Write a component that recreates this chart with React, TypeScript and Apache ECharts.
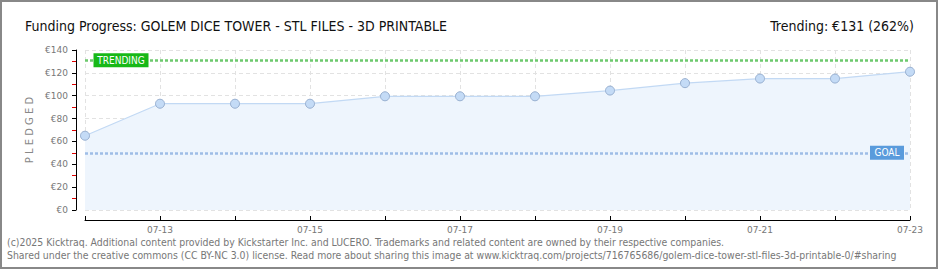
import React, { useEffect, useRef } from "react";
import * as echarts from "echarts";

const dates = ["07-12", "07-13", "07-14", "07-15", "07-16", "07-17", "07-18", "07-19", "07-20", "07-21", "07-22", "07-23"];
const pledged = [65, 93, 93, 93, 99.5, 99.5, 99.5, 104.5, 111, 115, 115, 121];
const trendingValue = 131;
const goalValue = 50;
const yTicks = { min: 0, max: 140, interval: 20 };
const titleText = "Funding Progress: GOLEM DICE TOWER - STL FILES - 3D PRINTABLE";
const trendText = "Trending: €131 (262%)";
const footer1 = "(c)2025 Kicktraq. Additional content provided by Kickstarter Inc. and LUCERO. Trademarks and related content are owned by their respective companies.";
const footer2 = "Shared under the creative commons (CC BY-NC 3.0) license. Read more about sharing this image at www.kicktraq.com/projects/716765686/golem-dice-tower-stl-files-3d-printable-0/#sharing";

export default function App() {
  const ref = useRef<HTMLDivElement>(null);
  useEffect(() => {
    if (!ref.current) return;
    const chart = echarts.init(ref.current, null, { renderer: "svg" });
    const lastIdx = dates.length - 1;
    chart.setOption({
      animation: false,
      backgroundColor: "#ffffff",
      grid: { left: 85, right: 30, top: 50, bottom: 60 },
      xAxis: {
        type: "category",
        data: dates,
        boundaryGap: false,
        offset: 10,
        axisLine: { show: true, onZero: false, lineStyle: { color: "#000", width: 1 } },
        axisTick: { show: true, inside: true, length: 4, interval: 0, lineStyle: { color: "#000" } },
        axisLabel: {
          interval: (i: number) => i % 2 === 1,
          color: "#777",
          fontSize: 9,
          fontFamily: "DejaVu Sans",
          margin: 5,
        },
        splitLine: { show: true, interval: 0, lineStyle: { color: "#e2e2e2", type: [4, 3] } },
      },
      yAxis: {
        type: "value",
        min: yTicks.min,
        max: yTicks.max,
        interval: yTicks.interval,
        offset: 9,
        name: "P L E D G E D",
        nameLocation: "middle",
        nameGap: 38,
        nameTextStyle: { color: "#888", fontSize: 10, fontFamily: "DejaVu Sans" },
        axisLine: { show: true, onZero: false, lineStyle: { color: "#000", width: 1 } },
        axisTick: { show: true, length: 4, lineStyle: { color: "#000" } },
        minorTick: { show: true, splitNumber: 2, length: 4, lineStyle: { color: "#e00000" } },
        axisLabel: { formatter: "€{value}", color: "#777", fontSize: 9, fontFamily: "DejaVu Sans", margin: 8 },
        splitLine: { show: true, lineStyle: { color: "#e2e2e2", type: [4, 3] } },
      },
      title: [
        {
          text: titleText,
          left: 20,
          top: 14,
          textStyle: { fontFamily: "DejaVu Sans Condensed", fontSize: 14, fontWeight: "normal", color: "#111" },
        },
        {
          text: trendText,
          right: 21,
          top: 14,
          textStyle: { fontFamily: "DejaVu Sans Condensed", fontSize: 14, fontWeight: "normal", color: "#111" },
        },
      ],
      series: [
        {
          type: "line",
          data: pledged,
          symbol: "circle",
          symbolSize: 9,
          itemStyle: { color: "#c4dbf6", borderColor: "#97afd0", borderWidth: 1 },
          lineStyle: { color: "#c2d9f4", width: 1.2 },
          areaStyle: { color: "#eef5fd", opacity: 1 },
          markLine: {
            silent: true,
            symbol: "none",
            label: { show: false },
            data: [
              { yAxis: trendingValue, lineStyle: { color: "#6dc96d", type: [3, 2], width: 2.5 } },
              { yAxis: goalValue, lineStyle: { color: "#9fbde6", type: [3, 2], width: 2.5 } },
            ],
          },
          markPoint: {
            silent: true,
            data: [
              {
                coord: [0, trendingValue],
                symbol: "rect",
                symbolSize: [55, 14],
                symbolOffset: [36, 0],
                itemStyle: { color: "#17b817" },
                label: { show: true, formatter: "TRENDING", color: "#fff", fontSize: 10, fontFamily: "DejaVu Sans Condensed" },
              },
              {
                coord: [lastIdx, goalValue],
                symbol: "rect",
                symbolSize: [34, 14],
                symbolOffset: [-23, 0],
                itemStyle: { color: "#5a9bdc" },
                label: { show: true, formatter: "GOAL", color: "#fff", fontSize: 10, fontFamily: "DejaVu Sans Condensed" },
              },
            ],
          },
        },
      ],
      graphic: [
        {
          type: "rect",
          shape: { x: 1, y: 1, width: 936, height: 267 },
          style: { fill: "none", stroke: "#888", lineWidth: 2 },
          silent: true,
        },
        {
          type: "text",
          left: 7,
          top: 237,
          style: { text: footer1, fill: "#777", fontSize: 10.4, fontFamily: "DejaVu Sans Condensed" },
        },
        {
          type: "text",
          left: 7,
          top: 250,
          style: { text: footer2, fill: "#777", fontSize: 10.4, fontFamily: "DejaVu Sans Condensed" },
        },
      ],
    });
    return () => chart.dispose();
  }, []);
  return <div ref={ref} style={{ position: "fixed", left: 0, top: 0, width: 940, height: 270 }} />;
}
